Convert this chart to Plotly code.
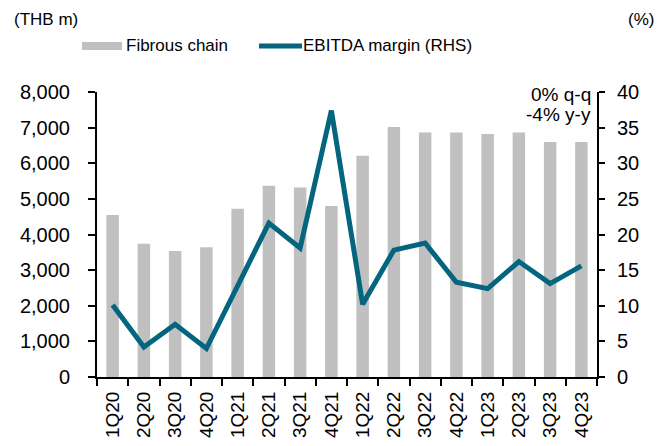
import plotly.graph_objects as go

quarters = ["1Q20", "2Q20", "3Q20", "4Q20", "1Q21", "2Q21", "3Q21", "4Q21",
            "1Q22", "2Q22", "3Q22", "4Q22", "1Q23", "2Q23", "3Q23", "4Q23"]
fibrous_chain = [4550, 3740, 3540, 3640, 4720, 5370, 5320, 4800,
                 6210, 7020, 6860, 6860, 6820, 6860, 6600, 6600]
ebitda_margin = [10.1, 4.2, 7.4, 4.0, 12.8, 21.6, 18.1, 37.4,
                 10.2, 17.8, 18.8, 13.3, 12.4, 16.2, 13.1, 15.6]

FONT = "Liberation Sans, Arial, sans-serif"
GREY = "#C0C0C0"
TEAL = "#03657E"

# page body has an 8px margin, so shift plot area up/left by 8px
L, T = 89, 84
PW, PH = 500, 285

fig = go.Figure()
fig.add_trace(go.Bar(x=quarters, y=fibrous_chain, name="Fibrous chain",
                     marker=dict(color=GREY, line=dict(width=0)), width=0.4,
                     showlegend=False))
fig.add_trace(go.Scatter(x=quarters, y=ebitda_margin, name="EBITDA margin (RHS)",
                         mode="lines", line=dict(color=TEAL, width=5),
                         yaxis="y2", showlegend=False))

fig.update_layout(
    width=672, height=446,
    margin=dict(l=L, r=672 - L - PW, t=T, b=446 - T - PH),
    paper_bgcolor="white", plot_bgcolor="white",
    font=dict(family=FONT, size=20, color="black"),
    showlegend=False,
    xaxis=dict(
        type="category", range=[-0.5, 15.5],
        tickangle=-90, tickson="boundaries", ticks="outside", ticklen=7,
        tickwidth=2, tickcolor="black", ticklabelstandoff=5,
        showline=True, linecolor="black", linewidth=2,
        showgrid=False, automargin=False, tickfont=dict(size=19),
    ),
    yaxis=dict(
        range=[0, 8000], dtick=1000, tickformat=",d",
        ticks="outside", ticklen=7, tickwidth=2, tickcolor="black",
        ticklabelstandoff=14,
        showline=True, linecolor="black", linewidth=2,
        showgrid=False, zeroline=False, automargin=False,
    ),
    yaxis2=dict(
        range=[0, 40], dtick=5, overlaying="y", side="right",
        ticks="outside", ticklen=6, tickwidth=2, tickcolor="black",
        ticklabelstandoff=8,
        showline=True, linecolor="black", linewidth=2,
        showgrid=False, zeroline=False, automargin=False,
    ),
)

def px_x(v):
    return (v - 8 - L) / PW

def px_y(v):
    return (T + PH + 8 - v) / PH

# Axis unit labels
fig.add_annotation(text="(THB m)", xref="paper", yref="paper", x=px_x(12),
                   y=px_y(19), xanchor="left", yanchor="middle",
                   showarrow=False, font=dict(size=17))
fig.add_annotation(text="(%)", xref="paper", yref="paper", x=px_x(656),
                   y=px_y(19), xanchor="right", yanchor="middle",
                   showarrow=False, font=dict(size=17))

# Manual legend
fig.add_shape(type="rect", xref="paper", yref="paper",
              x0=px_x(82), x1=px_x(122), y0=px_y(50), y1=px_y(42),
              fillcolor=GREY, line=dict(width=0))
fig.add_annotation(text="Fibrous chain", xref="paper", yref="paper",
                   x=px_x(124), y=px_y(46), xanchor="left", yanchor="middle",
                   showarrow=False, font=dict(size=17))
fig.add_shape(type="line", xref="paper", yref="paper",
              x0=px_x(259), x1=px_x(302), y0=px_y(46), y1=px_y(46),
              line=dict(color=TEAL, width=5))
fig.add_annotation(text="EBITDA margin (RHS)", xref="paper", yref="paper",
                   x=px_x(301), y=px_y(46), xanchor="left", yanchor="middle",
                   showarrow=False, font=dict(size=17))

# Change note
fig.add_annotation(text="0% q-q", xref="paper", yref="paper",
                   x=px_x(593), y=px_y(94), xanchor="right", yanchor="middle",
                   showarrow=False, font=dict(size=19))
fig.add_annotation(text="-4% y-y", xref="paper", yref="paper",
                   x=px_x(593), y=px_y(114), xanchor="right", yanchor="middle",
                   showarrow=False, font=dict(size=19))

fig.write_html("out.html")
